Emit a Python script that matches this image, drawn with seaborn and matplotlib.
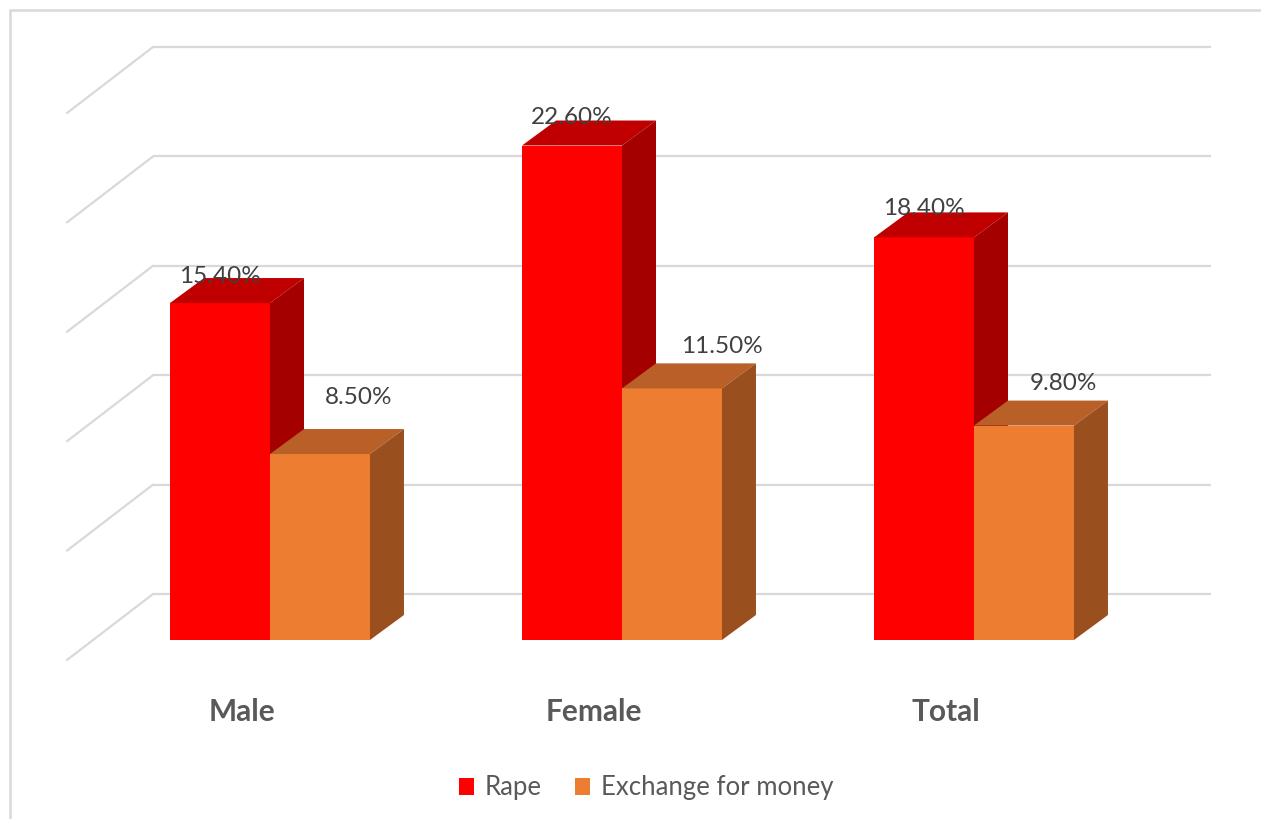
import matplotlib
matplotlib.use("Agg")
import matplotlib.pyplot as plt
from matplotlib.patches import Polygon, Patch
from matplotlib.lines import Line2D
import seaborn as sns
import pandas as pd

# ---- data ----
categories = ["Male", "Female", "Total"]
series_names = ["Rape", "Exchange for money"]
rape = [15.4, 22.6, 18.4]
exchange = [8.5, 11.5, 9.8]
grid_values = [0, 5, 10, 15, 20, 25]

# ---- styling ----
front_colors = ["#FF0000", "#ED7D31"]
top_colors = ["#C00000", "#B86027"]
side_colors = ["#A50000", "#9A4F1E"]
grid_color = "#D9D9D9"

sns.set_theme(style="white")
plt.rcParams["font.family"] = ["Lato", "DejaVu Sans"]

W, H = 1261, 819
fig = plt.figure(figsize=(W / 100, H / 100), dpi=100)
ax = fig.add_axes([0, 0, 1, 1])

# pixel <-> data scale (front plane of bars)
PX_X = 352.0      # pixels per category unit
PX_Y = 21.88      # pixels per percentage point
X0_PX, Y0_PX = 270.0, 640.0

df = pd.DataFrame({
    "category": categories * 2,
    "series": [series_names[0]] * 3 + [series_names[1]] * 3,
    "value": rape + exchange,
})

sns.barplot(data=df, x="category", y="value", hue="series", order=categories,
            hue_order=series_names, palette=front_colors, width=0.568,
            linewidth=0, saturation=1, legend=False, ax=ax, errorbar=None)
ax.set_xlim((0 - X0_PX) / PX_X, (W - X0_PX) / PX_X)
ax.set_ylim((Y0_PX - H) / PX_Y, Y0_PX / PX_Y)
ax.axis("off")

# depth vectors (in data units)
bar_dx, bar_dy = 34 / PX_X, 25 / PX_Y
wall_dx, wall_dy = 61 / PX_X, 46 / PX_Y     # from bar front to back wall
floor_dx, floor_dy = -25 / PX_X, -20 / PX_Y  # from bar front to front edge
wall_left = (153 - X0_PX) / PX_X
wall_right = (1211 - X0_PX) / PX_X

# back wall gridlines + left side diagonals
for v in grid_values:
    yb = v + wall_dy
    ax.plot([wall_left, wall_right], [yb, yb], color=grid_color, lw=1.6,
            zorder=0.5, solid_capstyle="butt")
    ax.plot([wall_left, wall_left + (floor_dx - wall_dx)],
            [yb, v + floor_dy], color=grid_color, lw=1.6, zorder=0.5)

# 3D faces
bars = list(ax.patches)
label_off_px = {  # (dx, dy) offsets of value labels from bar top-centre
    0: [(0, 27), (0, 28), (0, 29)],
    1: [(39, 57), (50, 42), (39, 42)],
}
vals = [rape, exchange]
for s in range(2):
    for i in range(3):
        b = bars[s * 3 + i]
        x0 = b.get_x()
        w = b.get_width()
        h = b.get_height()
        b.set_zorder(2 + s)
        top = Polygon([(x0, h), (x0 + w, h), (x0 + w + bar_dx, h + bar_dy),
                       (x0 + bar_dx, h + bar_dy)], closed=True,
                      facecolor=top_colors[s], edgecolor="none", zorder=2 + s)
        side = Polygon([(x0 + w, 0), (x0 + w + bar_dx, bar_dy),
                        (x0 + w + bar_dx, h + bar_dy), (x0 + w, h)], closed=True,
                       facecolor=side_colors[s], edgecolor="none", zorder=2 + s)
        ax.add_patch(top)
        ax.add_patch(side)
        ox, oy = label_off_px[s][i]
        ax.text(x0 + w / 2 + ox / PX_X, h + oy / PX_Y, f"{vals[s][i]:.2f}%",
                ha="center", va="center", fontsize=17.5, color="#404040",
                zorder=5)

# category labels
for i, c in enumerate(categories):
    ax.text(i - 28 / PX_X, (Y0_PX - 712) / PX_Y, c, ha="center", va="center",
            fontsize=21.5, fontweight="bold", color="#595959")

# legend
handles = [Patch(facecolor=front_colors[k], edgecolor="none", label=series_names[k])
           for k in range(2)]
fig.legend(handles=handles, loc="center", bbox_to_anchor=(646 / W, 1 - 788 / H),
           ncol=2, frameon=False, fontsize=18.5, handlelength=0.6, handleheight=0.6,
           handletextpad=0.4, columnspacing=1.3, labelcolor="#595959")

# outer border (top & left visible)
fig.add_artist(Line2D([9.5 / W, 1], [1 - 10 / H, 1 - 10 / H], transform=fig.transFigure,
                      color=grid_color, lw=1.8))
fig.add_artist(Line2D([9.5 / W, 9.5 / W], [0, 1 - 10 / H], transform=fig.transFigure,
                      color=grid_color, lw=1.8))

fig.savefig("out.png", dpi=100)
